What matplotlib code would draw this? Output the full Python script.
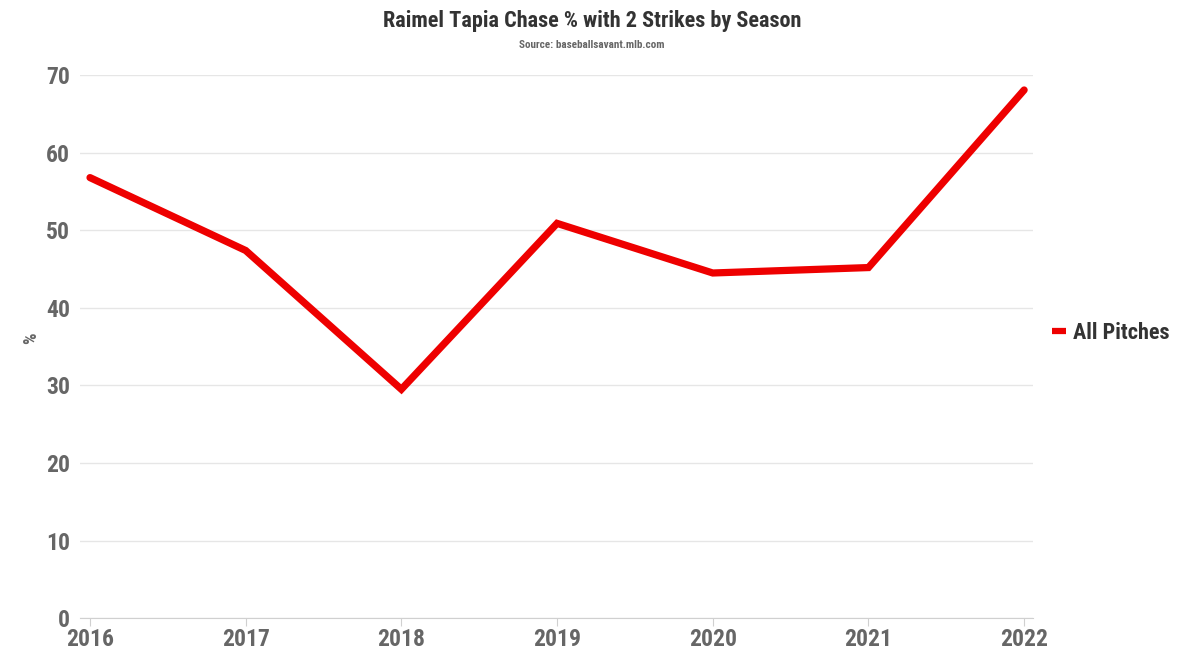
import matplotlib.pyplot as plt
from matplotlib import font_manager

# Raimel Tapia chase % with 2 strikes
seasons = [2016, 2017, 2018, 2019, 2020, 2021, 2022]
chase_pct = [56.8, 47.4, 29.5, 50.9, 44.5, 45.2, 68.1]
series_name = 'All Pitches'
y_ticks = [0, 10, 20, 30, 40, 50, 60, 70]

names = {f.name for f in font_manager.fontManager.ttflist}
fam = ['Roboto Condensed', 'Roboto', 'DejaVu Sans']
fam = [f for f in fam if f in names] or ['DejaVu Sans']
plt.rcParams['font.family'] = fam

fig = plt.figure(figsize=(11.84, 6.66), dpi=100)
ax = fig.add_axes([0.0676, 0.072, 0.805, 0.815])

ax.plot(seasons, chase_pct, color='#ee0000', lw=5.2, solid_capstyle='round',
        solid_joinstyle='miter', label=series_name)

ax.set_ylim(0, 70)
ax.set_xlim(2015.936, 2022.058)
ax.set_yticks(y_ticks)
ax.set_xticks(seasons)
ax.grid(axis='y', color='#e6e6e6', lw=1)
ax.set_axisbelow(True)
for s in ['top', 'right', 'left']:
    ax.spines[s].set_visible(False)
ax.spines['bottom'].set_color('#d0d0d0')
ax.tick_params(axis='y', length=0, pad=7, labelsize=17, labelcolor='#666666')
ax.tick_params(axis='x', length=6, color='#d0d0d0', pad=1, labelsize=17, labelcolor='#666666')
for lab in ax.get_xticklabels() + ax.get_yticklabels():
    lab.set_fontweight('bold')

ax.set_ylabel('%', fontsize=13, color='#666666', fontweight='bold')
ax.yaxis.set_label_coords(-0.042, 0.515)

fig.text(0.5, 0.968, 'Raimel Tapia Chase % with 2 Strikes by Season', ha='center', va='center',
         fontsize=16, fontweight='bold', color='#333333')
fig.text(0.5, 0.932, 'Source: baseballsavant.mlb.com', ha='center', va='center',
         fontsize=8, fontweight='bold', color='#666666')

leg = ax.legend(loc='center left', bbox_to_anchor=(1.01, 0.525), frameon=False,
                handlelength=0.65, handletextpad=0.3, borderaxespad=0,
                prop={'size': 16, 'weight': 'bold'})
for t in leg.get_texts():
    t.set_color('#333333')
for h in leg.get_lines():
    h.set_solid_capstyle('butt')
    h.set_linewidth(4.5)

fig.savefig('out.png', dpi=100)
